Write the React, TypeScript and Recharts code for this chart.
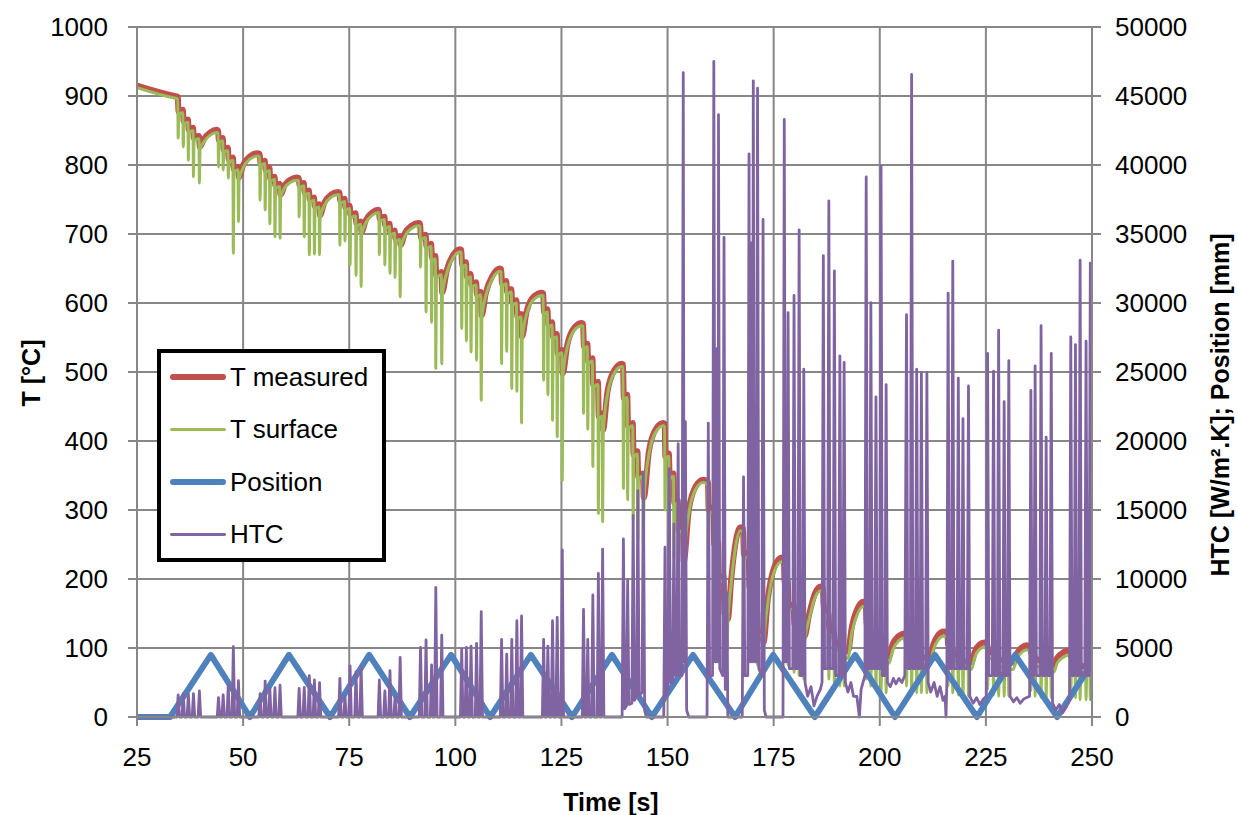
import { LineChart, Line, XAxis, YAxis, CartesianGrid } from 'recharts'

// time [s] / temperature [°C]
const measured: [number, number][] = [
  [25, 915], [33.8, 900],
  [34.6, 899], [34.8, 877], [35.8, 880], [36.0, 863], [37.0, 866], [37.2, 851], [38.2, 854], [38.4, 839], [39.6, 842], [39.8, 826], [40.8, 838], [42.2, 847], [43.8, 851],
  [44.1, 850], [44.3, 836], [45.2, 839], [45.4, 822], [46.4, 825], [46.6, 808], [47.6, 811], [47.8, 794], [48.8, 797], [49.0, 782], [50.0, 800], [51.5, 812], [53.4, 817],
  [53.9, 816], [54.1, 803], [55.1, 806], [55.3, 793], [56.2, 796], [56.4, 780], [57.4, 783], [57.6, 770], [58.6, 773], [58.8, 757], [59.8, 771], [61.2, 779], [62.6, 782],
  [63.1, 781], [63.3, 771], [64.3, 774], [64.5, 760], [65.5, 763], [65.7, 750], [66.7, 753], [66.9, 740], [67.9, 743], [68.1, 727], [69.1, 745], [70.7, 757], [72.4, 761],
  [72.7, 760], [72.9, 748], [73.9, 751], [74.1, 738], [75.1, 741], [75.3, 727], [76.5, 730], [76.7, 715], [77.7, 718], [77.9, 703], [78.9, 720], [80.4, 731], [81.9, 735],
  [82.0, 734], [82.2, 722], [83.3, 725], [83.5, 712], [84.5, 715], [84.7, 702], [85.7, 705], [85.9, 693], [86.9, 696], [87.1, 684], [88.1, 701], [89.7, 712], [91.3, 716],
  [91.7, 715], [91.9, 695], [93.0, 699], [93.2, 682], [94.3, 686], [94.5, 665], [95.3, 668], [95.5, 640], [96.7, 645], [96.9, 615], [98.0, 648], [99.5, 670], [101.1, 678],
  [101.4, 677], [101.6, 655], [102.5, 659], [102.7, 638], [103.6, 642], [103.8, 626], [104.9, 630], [105.1, 612], [106.0, 616], [106.2, 582], [107.2, 615], [108.8, 640], [110.5, 650],
  [110.8, 649], [111.0, 628], [112.0, 632], [112.2, 616], [113.2, 620], [113.4, 600], [114.4, 604], [114.6, 580], [115.5, 584], [115.7, 551], [116.8, 588], [118.6, 610], [120.4, 615],
  [120.7, 614], [120.9, 587], [121.7, 591], [121.9, 568], [122.8, 572], [123.0, 551], [123.9, 555], [124.1, 527], [125.1, 532], [125.3, 498], [126.4, 540], [128.1, 565], [129.8, 571],
  [130.1, 570], [130.3, 537], [131.1, 541], [131.3, 515], [132.3, 520], [132.5, 481], [133.6, 486], [133.8, 435], [134.6, 440], [134.8, 416], [135.8, 470], [137.5, 503], [139.2, 512],
  [139.5, 511], [139.7, 462], [140.5, 467], [140.7, 421], [141.8, 426], [142.0, 380], [142.9, 385], [143.1, 348], [144.2, 353], [144.4, 318], [145.6, 385], [147.3, 418], [149.0, 426],
  [149.3, 425], [149.5, 377], [150.3, 382], [150.5, 348], [151.4, 353], [151.6, 310], [152.4, 314], [152.6, 270], [153.6, 274], [153.8, 225], [155.0, 300], [156.7, 335], [158.4, 344],
  [159.5, 342], [159.7, 300], [160.8, 304], [161.0, 250], [161.9, 254], [162.1, 200], [163.2, 204], [163.4, 150], [164.2, 142], [165.0, 200], [166.0, 252], [167.2, 275],
  [167.8, 273], [168.0, 235], [169.1, 238], [169.3, 188], [170.1, 191], [170.3, 150], [171.1, 153], [171.3, 122], [172.4, 124], [172.6, 108], [173.6, 170], [175.2, 218], [176.9, 231],
  [177.4, 229], [177.6, 195], [178.3, 198], [178.5, 160], [179.7, 163], [179.9, 135], [180.9, 137], [181.1, 122], [182.0, 123], [182.2, 116], [183.4, 150], [184.8, 180], [186.1, 189],
  [186.6, 187], [186.8, 160], [187.9, 150], [188.1, 130], [189.2, 122], [189.4, 110], [190.5, 105], [190.7, 100], [191.5, 98], [191.7, 96], [192.5, 95], [193.4, 130], [194.8, 158], [196.1, 167],
  [196.7, 165], [196.9, 135], [197.8, 127], [198.0, 110], [199.0, 104], [199.2, 96], [200.2, 94], [200.4, 90], [201.4, 89], [201.6, 88], [202.2, 88], [203.0, 105], [204.4, 117], [205.7, 121],
  [206.2, 120], [206.4, 105], [207.4, 100], [207.6, 95], [208.6, 93], [208.8, 90], [209.7, 88], [209.9, 86], [211.0, 86], [211.2, 85], [211.8, 85], [212.6, 105], [213.8, 119], [215.0, 124],
  [215.9, 123], [216.1, 105], [217.1, 100], [217.3, 92], [218.4, 88], [218.6, 84], [219.5, 82], [219.7, 80], [220.8, 80], [221.0, 79], [221.6, 79], [222.4, 95], [223.5, 105], [224.6, 108],
  [225.3, 106], [225.5, 96], [226.7, 92], [226.9, 88], [227.9, 86], [228.1, 83], [229.2, 82], [229.4, 80], [230.3, 80], [230.5, 79], [231.4, 79], [232.3, 92], [233.5, 101], [234.6, 104],
  [235.5, 102], [235.7, 92], [236.5, 88], [236.7, 84], [237.9, 82], [238.1, 79], [239.1, 77], [239.3, 76], [240.3, 76], [240.5, 75], [241.0, 75], [241.8, 86], [243.1, 93], [244.2, 96],
  [244.9, 94], [245.1, 86], [246.0, 83], [246.2, 79], [247.1, 77], [247.3, 74], [248.5, 73], [248.7, 71], [249.5, 70], [249.7, 69], [250, 69],
]

const surface: [number, number][] = [
  [25, 912], [33.8, 897],
  [34.6, 896], [34.7, 839], [34.85, 873], [35.8, 876], [35.9, 826], [36.05, 859], [37.0, 862], [37.1, 807], [37.25, 847], [38.2, 850], [38.3, 783], [38.45, 835], [39.6, 838], [39.7, 774], [39.85, 822], [40.8, 834], [42.2, 843], [43.8, 847],
  [44.1, 846], [44.2, 797], [44.35, 832], [45.2, 835], [45.3, 793], [45.45, 818], [46.4, 821], [46.5, 781], [46.65, 804], [47.6, 807], [47.7, 672], [47.85, 790], [48.8, 793], [48.9, 718], [49.05, 778], [50.0, 796], [51.5, 808], [53.4, 813],
  [53.9, 812], [54.0, 749], [54.15, 799], [55.1, 802], [55.2, 735], [55.35, 789], [56.2, 792], [56.3, 715], [56.45, 776], [57.4, 779], [57.5, 696], [57.65, 766], [58.6, 769], [58.7, 694], [58.85, 753], [59.8, 767], [61.2, 775], [62.6, 778],
  [63.1, 777], [63.2, 725], [63.35, 767], [64.3, 770], [64.4, 696], [64.55, 756], [65.5, 759], [65.6, 670], [65.75, 746], [66.7, 749], [66.8, 671], [66.95, 736], [67.9, 739], [68.0, 670], [68.15, 723], [69.1, 741], [70.7, 753], [72.4, 757],
  [72.7, 756], [72.8, 684], [72.95, 744], [73.9, 747], [74.0, 690], [74.15, 734], [75.1, 737], [75.2, 655], [75.35, 723], [76.5, 726], [76.6, 640], [76.75, 711], [77.7, 714], [77.8, 624], [77.95, 699], [78.9, 716], [80.4, 727], [81.9, 731],
  [82.0, 730], [82.1, 670], [82.25, 718], [83.3, 721], [83.4, 655], [83.55, 708], [84.5, 711], [84.6, 643], [84.75, 698], [85.7, 701], [85.8, 637], [85.95, 689], [86.9, 692], [87.0, 609], [87.15, 680], [88.1, 697], [89.7, 708], [91.3, 712],
  [91.7, 711], [91.8, 652], [91.95, 691], [93.0, 695], [93.1, 587], [93.25, 678], [94.3, 682], [94.4, 572], [94.55, 661], [95.3, 664], [95.4, 505], [95.55, 636], [96.7, 641], [96.8, 512], [96.95, 611], [98.0, 644], [99.5, 666], [101.1, 674],
  [101.4, 673], [101.5, 563], [101.65, 651], [102.5, 655], [102.6, 545], [102.75, 634], [103.6, 638], [103.7, 529], [103.85, 622], [104.9, 626], [105.0, 517], [105.15, 608], [106.0, 612], [106.1, 459], [106.25, 578], [107.2, 611], [108.8, 636], [110.5, 646],
  [110.8, 645], [110.9, 512], [111.05, 624], [112.0, 628], [112.1, 530], [112.25, 612], [113.2, 616], [113.3, 476], [113.45, 596], [114.4, 600], [114.5, 472], [114.65, 576], [115.5, 580], [115.6, 426], [115.75, 547], [116.8, 584], [118.6, 606], [120.4, 611],
  [120.7, 610], [120.8, 488], [120.95, 583], [121.7, 587], [121.8, 467], [121.95, 564], [122.8, 568], [122.9, 430], [123.05, 547], [123.9, 551], [124.0, 406], [124.15, 523], [125.1, 528], [125.2, 343], [125.35, 494], [126.4, 536], [128.1, 561], [129.8, 567],
  [130.1, 566], [130.2, 440], [130.35, 533], [131.1, 537], [131.2, 417], [131.35, 511], [132.3, 516], [132.4, 363], [132.55, 477], [133.6, 482], [133.7, 295], [133.85, 431], [134.6, 436], [134.7, 283], [134.85, 412], [135.8, 466], [137.5, 499], [139.2, 508],
  [139.5, 507], [139.6, 331], [139.75, 458], [140.5, 463], [140.6, 315], [140.75, 417], [141.8, 422], [141.9, 285], [142.05, 376], [142.9, 381], [143.0, 255], [143.15, 344], [144.2, 349], [144.3, 250], [144.45, 314], [145.6, 381], [147.3, 414], [149.0, 422],
  [149.3, 421], [149.4, 300], [149.55, 373], [150.3, 378], [150.4, 270], [150.55, 344], [151.4, 349], [151.5, 230], [151.65, 306], [152.4, 310], [152.5, 190], [152.65, 266], [153.6, 270], [153.7, 170], [153.85, 220], [155.0, 295], [156.7, 331], [158.4, 340],
  [159.5, 336], [159.6, 230], [159.75, 294], [160.8, 298], [160.9, 180], [161.05, 244], [161.9, 248], [162.0, 140], [162.15, 194], [163.2, 198], [163.3, 110], [163.45, 140], [164.0, 95], [164.2, 136], [165.0, 194], [166.0, 246], [167.2, 270],
  [167.8, 267], [167.9, 150], [168.05, 229], [169.1, 232], [169.2, 100], [169.35, 182], [170.1, 185], [170.2, 85], [170.35, 144], [171.1, 147], [171.2, 75], [171.35, 116], [172.4, 118], [172.5, 70], [172.65, 102], [173.6, 164], [175.2, 212], [176.9, 225],
  [177.4, 223], [177.5, 90], [177.65, 189], [178.3, 192], [178.4, 75], [178.55, 154], [179.7, 157], [179.8, 65], [179.95, 129], [180.9, 131], [181.0, 60], [181.15, 116], [182.0, 117], [182.1, 55], [182.3, 108], [183.4, 143], [184.8, 174], [186.1, 183],
  [186.6, 180], [186.7, 70], [186.85, 150], [187.9, 140], [188.0, 55], [188.15, 120], [189.2, 112], [189.3, 50], [189.45, 100], [190.5, 95], [190.6, 45], [190.75, 90], [191.5, 88], [191.6, 45], [191.75, 86], [192.5, 85], [193.4, 122], [194.8, 150], [196.1, 160],
  [196.7, 158], [196.8, 55], [196.95, 125], [197.8, 117], [197.9, 45], [198.05, 100], [199.0, 94], [199.1, 40], [199.25, 86], [200.2, 84], [200.3, 35], [200.45, 80], [201.4, 79], [201.5, 35], [201.65, 78], [202.2, 78], [203.0, 96], [204.4, 110], [205.7, 114],
  [206.2, 113], [206.3, 45], [206.45, 95], [207.4, 90], [207.5, 35], [207.65, 85], [208.6, 83], [208.7, 35], [208.85, 80], [209.7, 78], [209.8, 35], [209.95, 76], [211.0, 76], [211.1, 35], [211.25, 75], [211.8, 75], [212.6, 97], [213.8, 112], [215.0, 117],
  [215.9, 116], [216.1, 45], [216.25, 95], [217.1, 90], [217.2, 35], [217.35, 82], [218.4, 78], [218.5, 32], [218.65, 74], [219.5, 72], [219.6, 30], [219.75, 70], [220.8, 70], [220.9, 30], [221.05, 69], [221.6, 69], [222.4, 87], [223.5, 98], [224.6, 101],
  [225.3, 99], [225.4, 40], [225.55, 86], [226.7, 82], [226.8, 32], [226.95, 78], [227.9, 76], [228.0, 30], [228.15, 73], [229.2, 72], [229.3, 30], [229.45, 70], [230.3, 70], [230.4, 30], [230.55, 69], [231.4, 69], [232.3, 84], [233.5, 94], [234.6, 97],
  [235.5, 95], [235.6, 38], [235.75, 82], [236.5, 78], [236.6, 30], [236.75, 74], [237.9, 72], [238.0, 28], [238.15, 69], [239.1, 67], [239.2, 28], [239.35, 66], [240.3, 66], [240.4, 28], [240.55, 65], [241.0, 65], [241.8, 78], [243.1, 86], [244.2, 89],
  [244.9, 87], [245.0, 30], [245.15, 76], [246.0, 73], [246.1, 28], [246.25, 69], [247.1, 67], [247.2, 25], [247.35, 64], [248.5, 63], [248.6, 25], [248.75, 61], [249.5, 60], [249.6, 25], [249.75, 59], [250, 59],
]

// position [mm], plotted against the left axis
const position: [number, number][] = [
  [25, 0], [32.8, 0], [42.4, 90], [51.6, 0], [60.8, 90], [70.5, 0], [79.7, 90], [89.3, 0], [99.0, 90],
  [108.2, 0], [117.8, 90], [127.5, 0], [136.9, 90], [146.3, 0], [156.0, 90], [165.9, 0], [174.9, 90],
  [184.7, 0], [194.2, 90], [203.6, 0], [213.0, 90], [222.9, 0], [231.9, 90], [241.8, 0], [250, 78],
]

// heat transfer coefficient [W/m².K], right axis
const htc: [number, number][] = [
  [25, 0], [34.4, 0],
  [34.7, 1600], [35.0, 0], [35.6, 0], [35.9, 1700], [36.2, 0], [36.8, 0], [37.1, 1650], [37.4, 0], [38.0, 0], [38.3, 1700], [38.6, 0], [39.4, 0], [39.7, 1900], [40.0, 0],
  [43.9, 0], [44.2, 1400], [44.5, 0], [45.0, 0], [45.3, 1600], [45.6, 0], [46.2, 0], [46.5, 2300], [46.8, 0], [47.4, 0], [47.7, 5100], [48.0, 0], [48.6, 0], [48.9, 2630], [49.2, 0],
  [53.7, 0], [54.0, 1700], [54.3, 0], [54.9, 0], [55.2, 2600], [55.5, 0], [56.0, 0], [56.3, 2080], [56.6, 0], [57.2, 0], [57.5, 2120], [57.8, 0], [58.4, 0], [58.7, 2300], [59.0, 0],
  [62.9, 0], [63.2, 2080], [63.5, 0], [64.1, 0], [64.4, 2150], [64.7, 0], [65.3, 0], [65.6, 3000], [65.9, 0], [66.5, 0], [66.8, 2680], [67.1, 0], [67.7, 0], [68.0, 2490], [68.3, 0],
  [72.5, 0], [72.8, 2800], [73.1, 0], [73.7, 0], [74.0, 1470], [74.3, 0], [74.9, 0], [75.2, 3700], [75.5, 0], [76.3, 0], [76.6, 3280], [76.9, 0], [77.5, 0], [77.8, 3650], [78.1, 0],
  [81.8, 0], [82.1, 2680], [82.4, 0], [83.1, 0], [83.4, 1900], [83.7, 0], [84.3, 0], [84.6, 3350], [84.9, 0], [85.5, 0], [85.8, 1470], [86.1, 0], [86.7, 0], [87.0, 4320], [87.3, 0],
  [91.5, 0], [91.8, 5050], [92.1, 0], [92.8, 0], [93.1, 5580], [93.4, 0], [94.1, 0], [94.4, 3770], [94.7, 0], [95.1, 0], [95.4, 9400], [95.7, 0], [96.5, 0], [96.8, 5940], [97.1, 0],
  [101.2, 0], [101.5, 4900], [101.8, 0], [102.3, 0], [102.6, 5050], [102.9, 0], [103.4, 0], [103.7, 5140], [104.0, 0], [104.7, 0], [105.0, 5340], [105.3, 0], [105.8, 0], [106.1, 7630], [106.4, 0],
  [110.6, 0], [110.9, 5630], [111.2, 0], [111.8, 0], [112.1, 4560], [112.4, 0], [113.0, 0], [113.3, 5630], [113.6, 0], [114.2, 0], [114.5, 6980], [114.8, 0], [115.3, 0], [115.6, 7320], [115.9, 0],
  [120.5, 0], [120.8, 5630], [121.1, 0], [121.5, 0], [121.8, 5140], [122.1, 0], [122.6, 0], [122.9, 6980], [123.2, 0], [123.7, 0], [124.0, 7220], [124.3, 0], [124.9, 0], [125.2, 12100], [125.5, 0],
  [129.9, 0], [130.2, 7800], [130.5, 0], [130.9, 0], [131.2, 5630], [131.5, 0], [132.1, 0], [132.4, 8840], [132.7, 0], [133.4, 0], [133.7, 10400], [134.0, 0], [134.4, 0], [134.7, 12170], [135.0, 0],
  [139.3, 0], [139.6, 12900], [139.9, 600], [140.3, 800], [140.6, 9900], [140.9, 900], [141.6, 1000], [141.9, 14600], [142.2, 1200], [142.7, 1500], [143.0, 16400], [143.3, 1500], [144.0, 1800], [144.3, 17700], [144.6, 500], [145.0, 0],
  [149.1, 0], [149.4, 12300], [149.7, 1500], [150.1, 2000], [150.4, 18000], [150.7, 2500], [151.2, 2500], [151.5, 14000], [151.8, 3000], [152.2, 3000], [152.5, 19800], [152.8, 3000], [153.4, 3000], [153.7, 46700], [153.9, 4000], [154.0, 4000], [154.2, 21400], [154.5, 500], [155.0, 0],
  [159.3, 0], [159.6, 21300], [159.9, 3000], [160.6, 3000], [160.9, 47500], [161.2, 4000], [161.4, 4000], [161.6, 26700], [161.8, 4000], [161.9, 4000], [162.0, 43650], [162.3, 3500], [163.0, 3000], [163.3, 34760], [163.6, 2000], [163.8, 2000], [164.0, 9000], [164.2, 0],
  [167.6, 0], [167.9, 17400], [168.2, 3000], [168.9, 3000], [169.2, 40800], [169.4, 4000], [169.5, 4000], [169.7, 34350], [169.9, 4000], [170.0, 4000], [170.2, 46100], [170.5, 4000], [170.9, 4000], [171.2, 45560], [171.5, 3500], [172.2, 3000], [172.5, 36050], [172.8, 500], [173.2, 0],
  [177.2, 0], [177.5, 43300], [177.8, 4000], [178.1, 4000], [178.4, 29300], [178.7, 3500], [179.5, 3500], [179.8, 30550], [180.1, 3500], [180.7, 3500], [181.0, 35300], [181.3, 3000], [181.8, 3000], [182.1, 25200], [182.4, 2500], [183.0, 1500], [183.8, 2200], [184.5, 800], [185.2, 1500], [186.0, 2000],
  [186.4, 2500], [186.7, 33430], [187.0, 3500], [187.7, 3500], [188.0, 37400], [188.3, 3500], [189.0, 3500], [189.3, 32330], [189.6, 3000], [190.3, 3000], [190.6, 26160], [190.9, 3000], [191.3, 3000], [191.6, 25700], [191.9, 2500], [192.5, 1800], [193.2, 2500], [193.8, 1500], [194.6, 1500], [195.2, 0], [195.6, 2000],
  [196.5, 3000], [196.8, 39130], [197.1, 3500], [197.6, 3500], [197.9, 30030], [198.2, 3500], [198.8, 3500], [199.1, 23200], [199.4, 3500], [200.0, 3500], [200.3, 39900], [200.6, 3000], [201.2, 3000], [201.5, 24090], [201.8, 2500], [202.5, 2200], [203.2, 2800], [203.8, 2400], [204.5, 2800], [205.2, 2500], [205.9, 3000],
  [206.3, 29160], [206.6, 3500], [207.2, 3500], [207.5, 46560], [207.8, 3500], [208.4, 3500], [208.7, 25200], [209.0, 3500], [209.5, 3500], [209.8, 24950], [210.1, 3500], [210.8, 3500], [211.1, 24950], [211.4, 2500], [212.0, 1800], [212.8, 2500], [213.5, 1500], [214.2, 2200], [214.9, 1200], [215.4, 1500], [215.6, 0], [215.8, 2500],
  [216.1, 30720], [216.4, 3500], [216.9, 3500], [217.2, 33040], [217.5, 3500], [218.2, 3500], [218.5, 24560], [218.8, 3500], [219.3, 3500], [219.6, 21620], [219.9, 3500], [220.6, 3500], [220.9, 23990], [221.2, 1500], [222.0, 1000], [222.8, 1400], [223.6, 900], [224.4, 1300], [225.1, 1500],
  [225.4, 26350], [225.7, 3000], [226.5, 3000], [226.8, 25060], [227.1, 3000], [227.7, 3000], [228.0, 28040], [228.3, 3000], [229.0, 3000], [229.3, 22850], [229.6, 3000], [230.1, 3000], [230.4, 25830], [230.7, 1500], [231.5, 1100], [232.3, 1400], [233.1, 1000], [233.9, 1300], [235.3, 1500],
  [235.6, 23660], [235.9, 3000], [236.3, 3000], [236.6, 25440], [236.9, 3000], [237.7, 3000], [238.0, 28350], [238.3, 3000], [238.9, 3000], [239.2, 20270], [239.5, 3000], [240.1, 3000], [240.4, 26350], [240.7, 1000], [241.5, 500], [242.3, 900], [243.1, 300], [243.9, 700], [244.7, 1200],
  [245.0, 27540], [245.3, 3000], [245.8, 3000], [246.1, 26990], [246.4, 3000], [246.9, 3000], [247.2, 33110], [247.5, 3000], [248.3, 3000], [248.6, 27230], [248.9, 3000], [249.3, 3000], [249.6, 32880], [250, 1200],
]

const timeTicks = [25, 50, 75, 100, 125, 150, 175, 200, 225, 250]
const tempTicks = [0, 100, 200, 300, 400, 500, 600, 700, 800, 900, 1000]
const htcTicks = [0, 5000, 10000, 15000, 20000, 25000, 30000, 35000, 40000, 45000, 50000]

const series = [
  { name: 'T measured', color: '#C0504D', width: 6 },
  { name: 'T surface', color: '#9BBB59', width: 3 },
  { name: 'Position', color: '#4F81BD', width: 6 },
  { name: 'HTC', color: '#8064A2', width: 2.8 },
]

const toRows = (pts: [number, number][]) => pts.map(([t, v]) => ({ t, v }))

const gridColor = '#878787'
const font = '"Liberation Sans", Arial, sans-serif'
const tickStyle = { fill: '#000', fontSize: 26, fontFamily: font }
const titleStyle: React.CSSProperties = {
  position: 'absolute',
  fontFamily: font,
  fontWeight: 'bold',
  fontSize: 25,
  lineHeight: 1,
  whiteSpace: 'nowrap',
  color: '#000',
}

export default function App() {
  return (
    <div style={{ position: 'absolute', left: 0, top: 0, width: 1238, height: 815, background: '#fff' }}>
      <LineChart width={1238} height={815} margin={{ top: 27, right: 0, bottom: 0, left: 0 }}>
        <CartesianGrid yAxisId="left" stroke={gridColor} strokeWidth={2} />
        <XAxis
          dataKey="t"
          type="number"
          domain={[25, 250]}
          ticks={timeTicks}
          allowDataOverflow
          height={98}
          stroke={gridColor}
          strokeWidth={2}
          tickSize={9}
          tickMargin={22}
          tick={tickStyle}
        />
        <YAxis
          yAxisId="left"
          domain={[0, 1000]}
          ticks={tempTicks}
          width={137}
          stroke={gridColor}
          strokeWidth={2}
          tickSize={9}
          tickMargin={20}
          tick={tickStyle}
        />
        <YAxis
          yAxisId="right"
          orientation="right"
          domain={[0, 50000]}
          ticks={htcTicks}
          width={146}
          stroke={gridColor}
          strokeWidth={2}
          tickSize={9}
          tickMargin={14}
          tick={tickStyle}
        />
        <Line data={toRows(measured)} dataKey="v" yAxisId="left" type="monotone" stroke={series[0].color} strokeWidth={series[0].width} dot={false} isAnimationActive={false} strokeLinejoin="round" />
        <Line data={toRows(surface)} dataKey="v" yAxisId="left" type="monotone" stroke={series[1].color} strokeWidth={series[1].width} dot={false} isAnimationActive={false} strokeLinejoin="round" />
        <Line data={toRows(position)} dataKey="v" yAxisId="left" type="linear" stroke={series[2].color} strokeWidth={series[2].width} dot={false} isAnimationActive={false} strokeLinejoin="round" />
        <Line data={toRows(htc)} dataKey="v" yAxisId="right" type="linear" stroke={series[3].color} strokeWidth={series[3].width} dot={false} isAnimationActive={false} strokeLinejoin="round" />
      </LineChart>

      <div style={{ ...titleStyle, left: 31, top: 373, transform: 'translate(-50%, -50%) rotate(-90deg)' }}>T [°C]</div>
      <div style={{ ...titleStyle, left: 611, top: 802, transform: 'translate(-50%, -50%)' }}>Time [s]</div>
      <div style={{ ...titleStyle, left: 1220, top: 405, transform: 'translate(-50%, -50%) rotate(-90deg)' }}>
        HTC [W/m².K]; Position [mm]
      </div>

      <div
        style={{
          position: 'absolute',
          left: 157,
          top: 349,
          width: 229,
          height: 213,
          boxSizing: 'border-box',
          border: '4px solid #000',
          background: '#fff',
          fontFamily: font,
          fontSize: 26,
        }}
      >
        {series.map((s, i) => (
          <div key={s.name} style={{ position: 'absolute', left: 9, top: 24 + i * 52.4, height: 0 }}>
            <div
              style={{
                position: 'absolute',
                left: 0,
                top: -s.width / 2,
                width: 56,
                height: s.width,
                borderRadius: s.width / 2,
                background: s.color,
              }}
            />
            <div style={{ position: 'absolute', left: 60, top: -15, lineHeight: '30px', whiteSpace: 'nowrap' }}>{s.name}</div>
          </div>
        ))}
      </div>
    </div>
  )
}
